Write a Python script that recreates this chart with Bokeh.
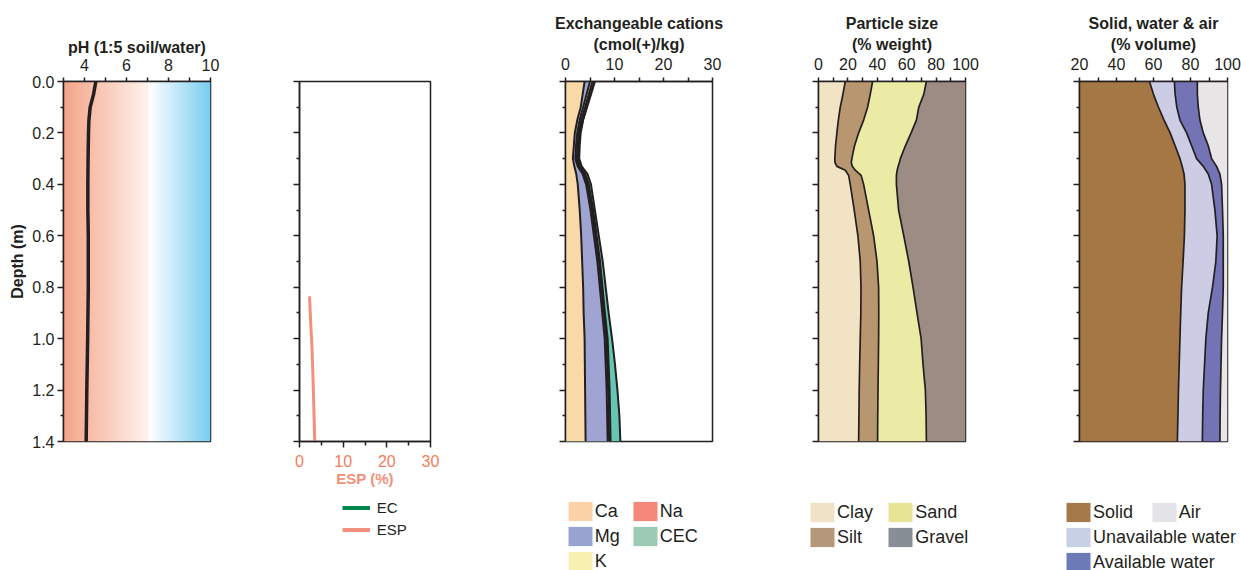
import numpy as np
from bokeh.plotting import figure
from bokeh.layouts import row, column
from bokeh.models import Range1d, FixedTicker, PrintfTickFormatter, Legend, LegendItem
from bokeh.embed import file_html
from bokeh.resources import INLINE

DARK = "#231F20"
FONT = "Liberation Sans"

# ---------------- data ----------------
depth_ticks = [0.0, 0.2, 0.4, 0.6, 0.8, 1.0, 1.2, 1.4]
depth_minor = [0.1, 0.3, 0.5, 0.7, 0.9, 1.1, 1.3]
depth_range = [1.4, 0.0]

# pH (1:5 soil/water)
ph_range = [3, 10]
ph_ticks = [4, 6, 8, 10]
ph_minor = [3, 5, 7, 9]
ph_depth = [0.0, 0.05, 0.10, 0.15, 0.20, 0.30, 0.40, 0.50, 0.60, 0.80, 1.00, 1.20, 1.40]
ph_values = [4.54, 4.43, 4.27, 4.21, 4.19, 4.17, 4.16, 4.16, 4.18, 4.18, 4.15, 4.11, 4.08]

# ESP (%) and EC (no EC values plotted)
esp_range = [0, 30]
esp_ticks = [0, 10, 20, 30]
esp_minor = [5, 15, 25]
esp_depth = [0.84, 0.95, 1.05, 1.16, 1.28, 1.40]
esp_values = [2.3, 2.6, 2.9, 3.1, 3.3, 3.5]
ec_depth = []
ec_values = []

# Exchangeable cations (cmol(+)/kg)
cat_range = [0, 30]
cat_ticks = [0, 10, 20, 30]
cat_minor = [5, 15, 25]
cat_depth = [0.0, 0.05, 0.10, 0.15, 0.20, 0.25, 0.30, 0.33, 0.36, 0.40,
             0.50, 0.60, 0.70, 0.80, 0.90, 1.00, 1.10, 1.20, 1.30, 1.40]
ca = [3.9, 3.5, 3.1, 2.4, 1.9, 1.7, 1.5, 1.8, 2.2, 2.5, 2.9, 3.2, 3.4, 3.6, 3.7, 3.9, 3.95, 4.0, 4.05, 4.1]
mg = [1.1, 0.8, 0.5, 0.5, 0.5, 0.45, 0.5, 0.7, 1.3, 1.7, 2.2, 2.6, 3.1, 3.4, 3.8, 4.1, 4.25, 4.4, 4.45, 4.5]
k = [0.5, 0.45, 0.4, 0.35, 0.3, 0.3, 0.3, 0.3, 0.3, 0.3, 0.3, 0.3, 0.3, 0.3, 0.3, 0.3, 0.3, 0.3, 0.3, 0.3]
na = [0.4, 0.35, 0.3, 0.3, 0.25, 0.25, 0.25, 0.25, 0.25, 0.25, 0.25, 0.25, 0.25, 0.25, 0.25, 0.3, 0.3, 0.3, 0.3, 0.3]
cec = [6.0, 5.2, 4.4, 3.6, 3.1, 2.9, 2.8, 3.3, 4.5, 5.2, 6.0, 6.8, 7.6, 8.2, 8.8, 9.5, 10.1, 10.6, 11.0, 11.2]

# Particle size (% weight)
ps_range = [0, 100]
ps_ticks = [0, 20, 40, 60, 80, 100]
ps_minor = [10, 30, 50, 70, 90]
ps_depth = [0.0, 0.05, 0.10, 0.15, 0.20, 0.25, 0.30, 0.315, 0.33, 0.345, 0.365, 0.40,
            0.50, 0.60, 0.70, 0.80, 0.90, 1.00, 1.10, 1.20, 1.30, 1.40]
clay = [18.2, 16.6, 14.8, 13.5, 12.5, 11.6, 11.1, 11.2, 12.5, 18.2, 20.5, 21.6,
        24.3, 26.8, 28.4, 28.9, 28.8, 28.4, 28.0, 27.7, 27.5, 27.3]
silt = [18.6, 18.6, 18.6, 17.2, 14.8, 12.9, 11.6, 11.1, 10.5, 6.8, 8.5, 9.1,
        9.8, 10.7, 11.4, 12.0, 12.2, 12.5, 12.7, 12.8, 12.8, 12.9]
sand = [36.6, 36.4, 34.8, 35.9, 35.7, 34.6, 33.0, 32.7, 31.2, 28.5, 24.0, 22.3,
        20.4, 20.5, 21.6, 23.4, 26.0, 28.9, 30.4, 32.2, 32.9, 33.2]
gravel = [26.6, 28.4, 31.8, 33.4, 37.0, 40.9, 44.3, 45.0, 45.8, 46.5, 47.0, 47.0,
          45.5, 42.0, 38.6, 35.7, 33.0, 30.2, 28.9, 27.3, 26.8, 26.6]

# Solid, water & air (% volume)
sw_range = [20, 100]
sw_ticks = [20, 40, 60, 80, 100]
sw_minor = [30, 50, 70, 90]
sw_depth = [0.0, 0.05, 0.10, 0.15, 0.20, 0.25, 0.30, 0.33, 0.36, 0.40,
            0.50, 0.60, 0.70, 0.80, 0.90, 1.00, 1.10, 1.20, 1.30, 1.40]
solid = [57.8, 60.0, 62.7, 65.7, 69.0, 71.7, 74.3, 75.5, 76.5, 77.0,
         77.0, 76.7, 76.0, 75.2, 74.7, 74.3, 73.9, 73.5, 73.2, 72.9]
unavail = [13.5, 11.7, 9.9, 8.6, 8.9, 8.9, 9.0, 11.4, 13.1, 14.4,
           16.2, 17.7, 17.7, 16.7, 14.9, 14.0, 13.7, 13.4, 13.4, 13.5]
avail = [12.4, 12.0, 11.6, 10.8, 9.0, 9.0, 8.1, 7.2, 6.3, 5.4,
         4.1, 3.3, 4.0, 5.8, 7.7, 8.5, 8.9, 9.3, 9.4, 9.5]
air = [16.3, 16.3, 15.8, 14.9, 13.1, 10.4, 8.6, 5.9, 4.1, 3.2,
       2.7, 2.3, 2.3, 2.3, 2.7, 3.2, 3.5, 3.8, 4.0, 4.1]

TOP_H = 491     # height of the panel row (frame 81..441)
LEG_H = 79      # height of the legend strip below
TOTAL_W = 1241


def base_fig(width, xr, bl, br, xloc, xticks, xminor):
    p = figure(width=width, height=TOP_H, x_range=Range1d(*xr), y_range=Range1d(*depth_range),
               x_axis_location=xloc, toolbar_location=None, output_backend="svg",
               min_border_left=bl, min_border_right=br, min_border_top=81, min_border_bottom=50)
    p.xgrid.visible = False
    p.ygrid.visible = False
    p.outline_line_color = DARK
    p.outline_line_width = 1.5
    p.outline_line_alpha = 1
    p.background_fill_color = "white"
    p.border_fill_color = "white"
    for ax in (p.xaxis[0], p.yaxis[0]):
        ax.axis_line_color = DARK
        ax.axis_line_width = 1.5
        ax.major_tick_line_color = DARK
        ax.major_tick_line_width = 1.5
        ax.minor_tick_line_color = DARK
        ax.minor_tick_line_width = 1.5
        ax.major_tick_in = 0
        ax.minor_tick_in = 0
        ax.major_label_text_font = FONT
        ax.major_label_text_font_size = "16px"
        ax.major_label_text_color = DARK
        ax.axis_label_text_font = FONT
        ax.axis_label_text_font_size = "16px"
        ax.axis_label_text_font_style = "bold"
        ax.axis_label_text_color = DARK
    xa = p.xaxis[0]
    xa.ticker = FixedTicker(ticks=xticks, minor_ticks=xminor)
    xa.major_tick_out = 4
    xa.minor_tick_out = 4
    xa.major_label_standoff = 8
    ya = p.yaxis[0]
    ya.ticker = FixedTicker(ticks=depth_ticks, minor_ticks=depth_minor)
    ya.major_tick_out = 6
    ya.minor_tick_out = 3
    ya.formatter = PrintfTickFormatter(format="%.1f")
    return p


def hide_depth_labels(p):
    p.yaxis[0].major_label_overrides = {t: "" for t in depth_ticks}


def boundaries(p, xs_list, ys, width=1.8):
    for xs in xs_list:
        p.line(x=list(xs), y=ys, line_color=DARK, line_width=width, line_join="round")


# ---------------- panel 1: pH ----------------
p1 = base_fig(250, ph_range, 63, 40, "above", ph_ticks, ph_minor)
n = 700
xs = np.linspace(ph_range[0], ph_range[1], n)
stop_x = [3.0, 7.0, 7.1, 10.0]
stop_c = [(244, 165, 136), (255, 243, 238), (255, 255, 255), (120, 206, 240)]
img = np.empty((1, n), dtype=np.uint32)
view = img.view(dtype=np.uint8).reshape((1, n, 4))
for ch in range(3):
    view[0, :, ch] = np.interp(xs, stop_x, [c[ch] for c in stop_c]).astype(np.uint8)
view[0, :, 3] = 255
p1.image_rgba(image=[img], x=ph_range[0], y=min(depth_range), dw=ph_range[1] - ph_range[0],
              dh=max(depth_range) - min(depth_range))
p1.line(x=ph_values, y=ph_depth, line_color=DARK, line_width=3.5, line_join="round", line_cap="round")
p1.xaxis[0].axis_label = "pH (1:5 soil/water)"
p1.xaxis[0].axis_label_standoff = 0
p1.xaxis[0].major_label_standoff = 7
p1.yaxis[0].axis_label = "Depth (m)"
p1.yaxis[0].axis_label_standoff = 3
p1.yaxis[0].major_label_standoff = 3

# ---------------- panel 2: ESP ----------------
SALMON = "#F4907A"
p2 = base_fig(230, esp_range, 49, 50, "below", esp_ticks, esp_minor)
hide_depth_labels(p2)
xa2 = p2.xaxis[0]
xa2.major_tick_out = 6
xa2.minor_tick_out = 4
xa2.major_label_standoff = 7
xa2.major_label_text_color = "#F27C5E"
xa2.axis_label = "ESP (%)"
xa2.axis_label_text_color = SALMON
xa2.axis_label_text_font_size = "15px"
xa2.axis_label_standoff = 0
p2.line(x=ec_values, y=ec_depth, line_color="#00874D", line_width=4)
p2.line(x=esp_values, y=esp_depth, line_color=SALMON, line_width=3, line_cap="round")

# ---------------- panel 3: cations ----------------
p3 = base_fig(280, cat_range, 85, 48, "above", cat_ticks, cat_minor)
hide_depth_labels(p3)
p3.xaxis[0].axis_label = "Exchangeable cations\n(cmol(+)/kg)"
p3.xaxis[0].axis_label_standoff = 2
c1 = np.array(ca)
c2 = c1 + np.array(mg)
c3 = c2 + np.array(k)
c4 = c3 + np.array(na)
zero = np.zeros(len(cat_depth))
p3.harea(x1=list(zero), x2=cec, y=cat_depth, fill_color="#66C6B4")
p3.harea(x1=list(zero), x2=list(c1), y=cat_depth, fill_color="#F9D9A8")
p3.harea(x1=list(c1), x2=list(c2), y=cat_depth, fill_color="#A0A4D2")
p3.harea(x1=list(c2), x2=list(c3), y=cat_depth, fill_color="#F8F0B0")
p3.harea(x1=list(c3), x2=list(c4), y=cat_depth, fill_color="#F4877A")
boundaries(p3, [c1, c2, c3, c4, cec], cat_depth, width=2.0)

# ---------------- panel 4: particle size ----------------
p4 = base_fig(260, ps_range, 58, 55, "above", ps_ticks, ps_minor)
hide_depth_labels(p4)
p4.xaxis[0].axis_label = "Particle size\n(% weight)"
p4.xaxis[0].axis_label_standoff = 2
b1 = np.array(clay)
b2 = b1 + np.array(silt)
b3 = b2 + np.array(sand)
b4 = b3 + np.array(gravel)
zero = np.zeros(len(ps_depth))
p4.harea(x1=list(zero), x2=list(b1), y=ps_depth, fill_color="#F2E3C5")
p4.harea(x1=list(b1), x2=list(b2), y=ps_depth, fill_color="#B8966F")
p4.harea(x1=list(b2), x2=list(b3), y=ps_depth, fill_color="#EBEBA6")
p4.harea(x1=list(b3), x2=list(b4), y=ps_depth, fill_color="#9C8C84")
boundaries(p4, [b1, b2, b3], ps_depth, width=1.7)

# ---------------- panel 5: solid, water & air ----------------
p5 = base_fig(221, sw_range, 59, 14, "above", sw_ticks, sw_minor)
hide_depth_labels(p5)
p5.xaxis[0].axis_label = "Solid, water & air\n(% volume)"
p5.xaxis[0].axis_label_standoff = 2
s1 = np.array(solid)
s2 = s1 + np.array(unavail)
s3 = s2 + np.array(avail)
s4 = s3 + np.array(air)
zero = np.zeros(len(sw_depth))
p5.harea(x1=list(zero), x2=list(s1), y=sw_depth, fill_color="#A47744")
p5.harea(x1=list(s1), x2=list(s2), y=sw_depth, fill_color="#CCCDE5")
p5.harea(x1=list(s2), x2=list(s3), y=sw_depth, fill_color="#7373B5")
p5.harea(x1=list(s3), x2=list(s4), y=sw_depth, fill_color="#E8E5E6")
boundaries(p5, [s1, s2, s3], sw_depth, width=1.7)

# ---------------- legend strip ----------------
lg = figure(width=TOTAL_W, height=LEG_H, x_range=Range1d(0, 1), y_range=Range1d(0, 1),
            x_axis_location=None, y_axis_location=None, toolbar_location=None,
            output_backend="svg", min_border=0, min_border_left=0, min_border_right=0,
            min_border_top=0, min_border_bottom=0)
lg.xgrid.visible = False
lg.ygrid.visible = False
lg.outline_line_color = None
lg.background_fill_color = "white"
lg.border_fill_color = "white"

legend_entries = {
    "EC": ("line", "#00874D"), "ESP": ("line", "#F4907E"),
    "Ca": ("area", "#FCD3A6"), "Mg": ("area", "#98A4CF"), "K": ("area", "#F8F0B0"),
    "Na": ("area", "#F4877A"), "CEC": ("area", "#9DCAB4"),
    "Clay": ("area", "#F0E2C4"), "Silt": ("area", "#B5977A"),
    "Sand": ("area", "#E8E495"), "Gravel": ("area", "#878E96"),
    "Solid": ("area", "#A47A4A"), "Unavailable water": ("area", "#C8D0E5"),
    "Available water": ("area", "#6C7AB8"), "Air": ("area", "#E3E3E8"),
}
nan1 = [float("nan")]
proxy = {}
for name, (kind, col) in legend_entries.items():
    if kind == "line":
        proxy[name] = lg.line(x=nan1, y=nan1, line_color=col, line_width=4)
    else:
        proxy[name] = lg.harea(x1=nan1, x2=nan1, y=nan1, fill_color=col)


def add_legend(names, left_page, top_page, item_h, spacing, glyph_w, font_size, standoff):
    nn = len(names)
    height = nn * item_h + (nn - 1) * spacing
    vy = (TOP_H + LEG_H) - top_page - height
    leg = Legend(items=[LegendItem(label=nm, renderers=[proxy[nm]]) for nm in names],
                 location=(left_page, vy), orientation="vertical",
                 padding=0, margin=0, spacing=spacing,
                 glyph_width=glyph_w, glyph_height=item_h, label_height=item_h,
                 label_standoff=standoff, label_text_font=FONT,
                 label_text_font_size=font_size, label_text_color=DARK,
                 background_fill_alpha=0, border_line_alpha=0)
    lg.add_layout(leg)


add_legend(["EC", "ESP"], 341.7, 498.8, 17, 5, 28, "15px", 7)
add_legend(["Ca", "Mg", "K"], 564.7, 499.0, 24, 1, 30, "18px", 0)
add_legend(["Na", "CEC"], 629.7, 499.0, 24, 1, 30, "18px", 0)
add_legend(["Clay", "Silt"], 807.0, 500.0, 24, 1, 30, "18px", 0)
add_legend(["Sand", "Gravel"], 885.3, 500.0, 24, 1, 30, "18px", 0)
add_legend(["Solid", "Unavailable water", "Available water"], 1063.0, 500.0, 24, 1, 30, "18px", 0)
add_legend(["Air"], 1148.7, 500.0, 24, 1, 30, "18px", 0)

layout = column(row(p1, p2, p3, p4, p5, spacing=0), lg, spacing=0)
open("out.html", "w").write(file_html(layout, INLINE))
